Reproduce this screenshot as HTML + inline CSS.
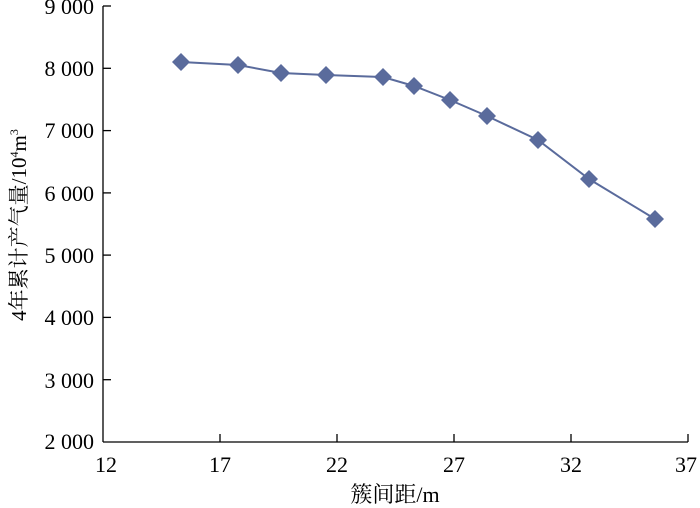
<!DOCTYPE html>
<html><head><meta charset="utf-8"><style>
html,body{margin:0;padding:0;background:#fff;}
svg{display:block;font-family:"Liberation Serif","Noto Serif CJK SC",serif;}
</style></head><body>
<svg width="700" height="508" viewBox="0 0 700 508" xmlns="http://www.w3.org/2000/svg">
<g stroke="#000" stroke-width="1.3" fill="none">
<line x1="103" y1="6" x2="103" y2="442"/>
<line x1="103" y1="442" x2="688" y2="442"/>
<line x1="103" y1="6" x2="111" y2="6"/>
<line x1="103" y1="68.3" x2="111" y2="68.3"/>
<line x1="103" y1="130.6" x2="111" y2="130.6"/>
<line x1="103" y1="192.9" x2="111" y2="192.9"/>
<line x1="103" y1="255.1" x2="111" y2="255.1"/>
<line x1="103" y1="317.4" x2="111" y2="317.4"/>
<line x1="103" y1="379.7" x2="111" y2="379.7"/>
<line x1="220" y1="442" x2="220" y2="434"/>
<line x1="337" y1="442" x2="337" y2="434"/>
<line x1="454" y1="442" x2="454" y2="434"/>
<line x1="571" y1="442" x2="571" y2="434"/>
<line x1="688" y1="442" x2="688" y2="434"/>
</g>
<g font-size="22" fill="#000" text-anchor="end">
<text x="94" y="14">9 000</text>
<text x="94" y="76">8 000</text>
<text x="94" y="138">7 000</text>
<text x="94" y="201">6 000</text>
<text x="94" y="263">5 000</text>
<text x="94" y="325">4 000</text>
<text x="94" y="388">3 000</text>
<text x="94" y="449">2 000</text>
</g>
<g font-size="22" fill="#000" text-anchor="middle">
<text x="106" y="472">12</text>
<text x="220" y="472">17</text>
<text x="337" y="472">22</text>
<text x="454" y="472">27</text>
<text x="571" y="472">32</text>
<text x="686" y="472">37</text>
<text x="395" y="502">簇间距/m</text>
</g>
<text transform="translate(26,225) rotate(-90)" font-size="21" text-anchor="middle">4年累计产气量/10<tspan font-size="12" dy="-8">4</tspan><tspan dy="8">m</tspan><tspan font-size="12" dy="-8">3</tspan></text>
<polyline fill="none" stroke="#5a6b9c" stroke-width="2" points="181,62 238,65 281,73 326,75 383,77 414,86 450,100 487,116 538,140 589,179 655,219"/>
<g fill="#5a6b9c">
<polygon points="181,53 190,62 181,71 172,62"/>
<polygon points="238,56 247,65 238,74 229,65"/>
<polygon points="281,64 290,73 281,82 272,73"/>
<polygon points="326,66 335,75 326,84 317,75"/>
<polygon points="383,68 392,77 383,86 374,77"/>
<polygon points="414,77 423,86 414,95 405,86"/>
<polygon points="450,91 459,100 450,109 441,100"/>
<polygon points="487,107 496,116 487,125 478,116"/>
<polygon points="538,131 547,140 538,149 529,140"/>
<polygon points="589,170 598,179 589,188 580,179"/>
<polygon points="655,210 664,219 655,228 646,219"/>
</g>
</svg>
</body></html>
